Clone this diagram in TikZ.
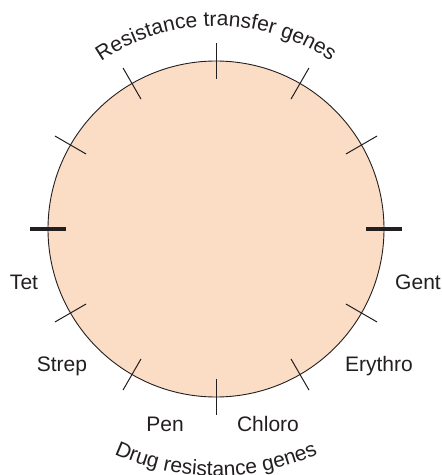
\documentclass[tikz,border=0pt]{standalone}
\usepackage{fontspec}
\setmainfont{Liberation Sans}
\usetikzlibrary{decorations.text,calc}
\definecolor{peach}{HTML}{FBDCC5}
\definecolor{ink}{HTML}{231F20}
\begin{document}
\begin{tikzpicture}[x=1pt,y=1pt,
  ticklight/.style={draw=ink,line width=1pt},
  tickheavy/.style={draw=ink,line width=3.5pt},
  lbl/.style={text=ink,font=\fontsize{21}{25}\selectfont,inner sep=0pt},
  arclbl/.style={decorate,decoration={text along path,text align=center,
     text={|\fontsize{21}{25}\selectfont\color{ink}|#1}}}]
\useasboundingbox (0,0) rectangle (442,475);
\coordinate (c) at (216,246);
\node[circle,draw=ink,fill=peach,line width=0.9pt,minimum size=336pt,inner sep=0pt] (ring) at (c) {};
\foreach \a in {30,60,90,120,150,210,240,270,300,330}
  \draw[ticklight] ($(c)+(\a:150)$) -- ($(c)+(\a:186)$);
\foreach \a in {0,180}
  \draw[tickheavy] ($(c)+(\a:150)$) -- ($(c)+(\a:186)$);
\node[lbl] (tet) at (24,193) {Tet};
\node[lbl] (gent) at (418,193) {Gent};
\node[lbl] (strep) at (62,109) {Strep};
\node[lbl] (ery) at (379,109) {Erythro};
\node[lbl] (pen) at (165,51) {Pen};
\node[lbl] (chl) at (268,51) {Chloro};
\path[arclbl={Resistance transfer genes}] ($(c)+(160:203)$) arc[start angle=160,end angle=20,radius=203];
\path[arclbl={Drug resistance genes}] ($(c)+(200:247)$) arc[start angle=200,end angle=340,radius=247];
\end{tikzpicture}
\end{document}
